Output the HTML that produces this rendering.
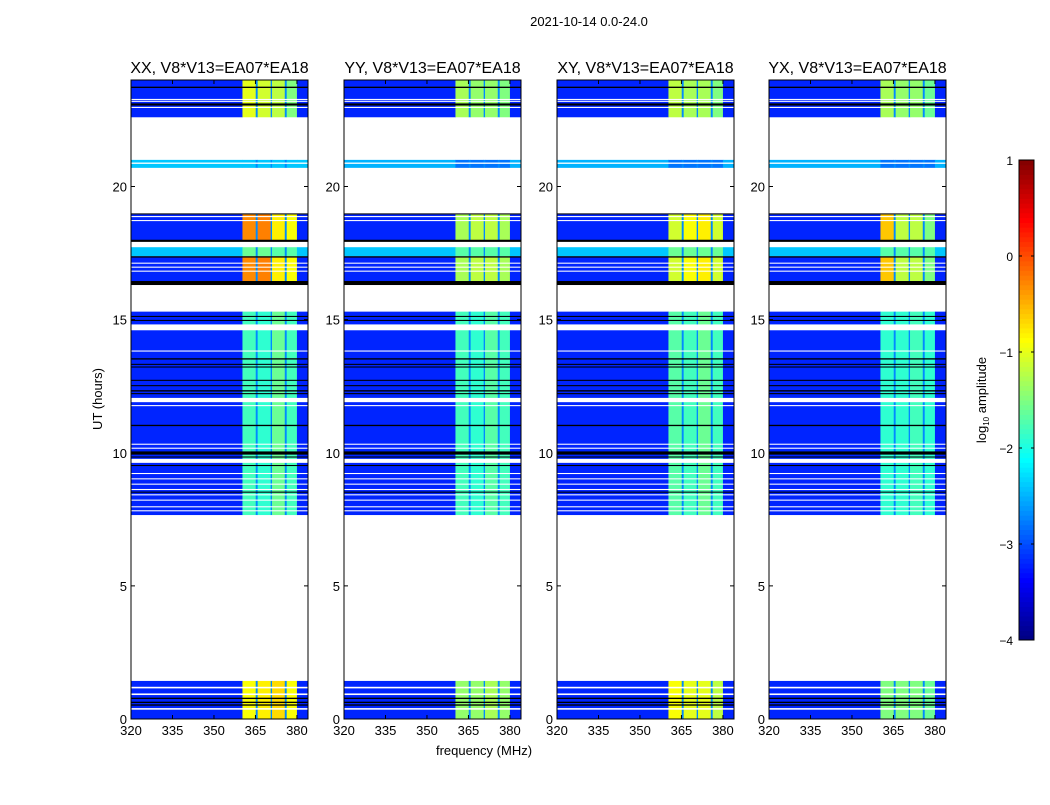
<!DOCTYPE html>
<html><head><meta charset="utf-8"><style>
body{margin:0;background:#fff;}
svg text{font-family:"Liberation Sans",sans-serif;fill:#000;}
</style></head><body>
<svg id="fig" width="1050" height="800" xmlns="http://www.w3.org/2000/svg">
<rect width="1050" height="800" fill="#fff"/>
<text x="589" y="26" font-size="13" text-anchor="middle">2021-10-14 0.0-24.0</text>
<text x="484" y="755" font-size="13" text-anchor="middle">frequency (MHz)</text>
<text transform="translate(102,399) rotate(-90)" font-size="13" text-anchor="middle">UT (hours)</text>
<g id="panels"></g>
<g id="cbar"></g>
</svg>
<script>
const panelTitles = ["XX, V8*V13=EA07*EA18","YY, V8*V13=EA07*EA18","XY, V8*V13=EA07*EA18","YX, V8*V13=EA07*EA18"];
const freqEdges = [320,360.3,365.1,365.8,370.5,371,375.6,376.3,380,384];
const freqKind = ["bg","c0","gap","c1","gap","c2","gap","c3","bg"];
// groups: [startHour, endHour, name]
const groups = [[0,1.43,"A"],[7.66,15.3,"B"],[16.3,17.38,"C"],[17.38,17.72,"D"],[17.98,18.95,"E"],[20.7,21.0,"F"],[22.6,24,"G"]];
const bgLevels = {A:-3.2,B:-3.2,C:-3.2,D:-2.4,E:-3.2,F:-2.5,G:-3.2};
const gapLevel = -2.7;
const bandLevels = [
 {A:[-0.9,-0.8,-0.7,-0.9],B:[-1.8,-1.9,-1.6,-1.8],C:[-0.3,-0.25,-0.8,-0.9],D:[-1.6,-1.6,-1.7,-1.7],E:[-0.3,-0.25,-0.8,-0.9],F:[-2.4,-2.4,-2.4,-2.4],G:[-1.0,-1.1,-1.2,-1.5]},
 {A:[-1.4,-1.4,-1.3,-1.4],B:[-1.8,-1.9,-1.7,-1.8],C:[-1.3,-1.2,-1.2,-1.3],D:[-1.7,-1.7,-1.7,-1.7],E:[-1.3,-1.2,-1.2,-1.3],F:[-2.8,-2.8,-2.8,-2.8],G:[-1.3,-1.4,-1.4,-1.5]},
 {A:[-0.9,-1.0,-1.0,-1.2],B:[-1.7,-1.8,-1.6,-1.8],C:[-1.1,-0.9,-0.8,-1.1],D:[-1.6,-1.6,-1.6,-1.6],E:[-1.1,-0.9,-0.8,-1.1],F:[-2.8,-2.8,-2.8,-2.8],G:[-1.2,-1.3,-1.3,-1.5]},
 {A:[-1.5,-1.5,-1.5,-1.6],B:[-1.9,-1.9,-1.8,-1.9],C:[-0.6,-1.2,-1.2,-1.5],D:[-1.7,-1.7,-1.7,-1.7],E:[-0.6,-1.2,-1.2,-1.5],F:[-2.8,-2.8,-2.8,-2.8],G:[-1.3,-1.4,-1.4,-1.6]}
];
// flagged lines [hour, width]
const whiteLines = [[23.25,0.04],[23.18,0.04],[22.95,0.04],[20.85,0.05],[18.85,0.04],[18.7,0.04],[17.1,0.04],[16.95,0.04],[16.8,0.04],[14.6,0.22],[13.8,0.04],[11.9,0.16],[11.75,0.04],[10.3,0.04],[10.15,0.04],[9.62,0.15],[9.2,0.04],[9.0,0.04],[8.8,0.04],[8.6,0.04],[8.4,0.04],[8.2,0.04],[7.95,0.04],[7.8,0.04],[1.15,0.06],[0.9,0.06],[0.35,0.06]];
const blackLines = [[23.7,0.05],[23.04,0.08],[18.95,0.04],[17.92,0.08],[17.33,0.05],[16.3,0.15],[15.1,0.04],[14.95,0.04],[13.5,0.05],[13.3,0.04],[13.2,0.04],[12.7,0.04],[12.5,0.04],[12.3,0.05],[12.2,0.04],[11.0,0.05],[9.93,0.12],[9.82,0.04],[9.5,0.04],[8.5,0.04],[0.75,0.05],[0.6,0.05],[0.5,0.05]];
const xTicks = [320,335,350,365,380];
const yTicks = [0,5,10,15,20];
const cbTicks = [1,0,-1,-2,-3,-4];

const panelX = [131,344,557,769];
const panelW = 177, plotTop = 80, plotBottom = 719;
const NS = "http://www.w3.org/2000/svg";
function mk(tag, attrs, parent){const e=document.createElementNS(NS,tag);for(const k in attrs)e.setAttribute(k,attrs[k]);parent.appendChild(e);return e;}
function jet(v){
  let t=(v+4)/5; t=Math.max(0,Math.min(1,t));
  const f=x=>Math.max(0,Math.min(1,x));
  const r=f(1.5-Math.abs(4*t-3)), g=f(1.5-Math.abs(4*t-2)), b=f(1.5-Math.abs(4*t-1));
  return `rgb(${Math.round(r*255)},${Math.round(g*255)},${Math.round(b*255)})`;
}
const yS = h => plotBottom - (h/24)*(plotBottom-plotTop);
const panelsG = document.getElementById('panels');
panelTitles.forEach((title,p)=>{
  const x0 = panelX[p];
  const xS = f => x0 + (f-320)/(384-320)*panelW;
  const g = mk('g',{},panelsG);
  
  
  groups.forEach(([h0,h1,name])=>{
    for(let i=0;i<freqKind.length;i++){
      const k=freqKind[i];
      let v = k==="bg"?bgLevels[name]:(k==="gap"?gapLevel:bandLevels[p][name][+k[1]]);
      if(name==="F" && p===0 && k==="bg") v=-2.4;
      const r=mk('rect',{x:xS(freqEdges[i]),y:yS(h1),width:xS(freqEdges[i+1])-xS(freqEdges[i])+0.3,height:yS(h0)-yS(h1),fill:jet(v)},g);
      
      
    }
  });
  whiteLines.forEach(([h,w])=>{
    const r=mk('rect',{x:x0,y:yS(h+w),width:panelW,height:Math.max(1,yS(h)-yS(h+w)),fill:'#fff'},g);
    
    
  });
  blackLines.forEach(([h,w])=>{
    const r=mk('rect',{x:x0,y:yS(h+w),width:panelW,height:Math.max(1,yS(h)-yS(h+w)),fill:'#000'},g);
    
    
  });
  const fr=mk('rect',{x:x0,y:plotTop,width:panelW,height:plotBottom-plotTop,fill:'none',stroke:'#000','stroke-width':1},g);
  
  
  const t=mk('text',{x:x0+panelW/2,y:73,'font-size':16,'text-anchor':'middle'},g);
  t.textContent=title;
  
  
  xTicks.forEach(v=>{
    const x=xS(v);
    mk('line',{x1:x,x2:x,y1:plotBottom,y2:plotBottom-4,stroke:'#000'},g);
    mk('line',{x1:x,x2:x,y1:plotTop,y2:plotTop+4,stroke:'#000'},g);
    const tl=mk('text',{x:x,y:plotBottom+16,'font-size':13,'text-anchor':'middle'},g);
    tl.textContent=v;
    
    
  });
  yTicks.forEach(v=>{
    const y=yS(v);
    mk('line',{x1:x0,x2:x0+4,y1:y,y2:y,stroke:'#000'},g);
    mk('line',{x1:x0+panelW,x2:x0+panelW-4,y1:y,y2:y,stroke:'#000'},g);
    const tl=mk('text',{x:x0-4,y:y+5,'font-size':13,'text-anchor':'end'},g);
    tl.textContent=v;
    
    
  });
});
const cb=document.getElementById('cbar');
const cbX=1019, cbW=15, cbTop=160, cbBot=640;
const cS = v => cbBot - (v+4)/5*(cbBot-cbTop);
for(let i=0;i<100;i++){
  const v0=-4+i*0.05;
  mk('rect',{x:cbX,y:cS(v0+0.05),width:cbW,height:(cbBot-cbTop)/100+0.5,fill:jet(v0+0.025)},cb);
}
mk('rect',{x:cbX,y:cbTop,width:cbW,height:cbBot-cbTop,fill:'none',stroke:'#000'},cb);
cbTicks.forEach(v=>{
  const y=cS(v);
  mk('line',{x1:cbX,x2:cbX+3,y1:y,y2:y,stroke:'#000'},cb);
  mk('line',{x1:cbX+cbW,x2:cbX+cbW-3,y1:y,y2:y,stroke:'#000'},cb);
  const tl=mk('text',{x:1013,y:y+5,'font-size':12,'text-anchor':'end'},cb);
  tl.textContent=(v<0?'\u2212'+(-v):v);
  
  
});
const cl=mk('text',{transform:'translate(986,400) rotate(-90)','font-size':13,'text-anchor':'middle'},cb);
cl.innerHTML='log<tspan font-size="8" dy="3">10</tspan><tspan dy="-3"> amplitude</tspan>';


</script>
</body></html>
